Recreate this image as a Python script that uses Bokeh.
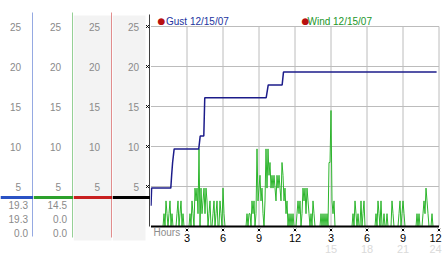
from bokeh.plotting import figure
from bokeh.layouts import row
from bokeh.models import Range1d, BoxAnnotation, Span
from bokeh.core.properties import value
from bokeh.embed import file_html
from bokeh.resources import INLINE

# ---------------- data ----------------
hour_ticks = [3, 6, 9, 12, 15, 18, 21, 24]
hour_labels = ["3", "6", "9", "12", "3", "6", "9", "12"]
day2_labels = ["", "", "", "", "15", "18", "21", "24"]
value_ticks = [5, 10, 15, 20, 25]
value_labels = ["5", "10", "15", "20", "25"]

gust_hours = [0.0, 0.05, 1.65, 1.72, 1.8, 1.93, 3.98, 4.1, 4.4, 4.48, 9.6, 9.77, 10.93, 11.04, 23.8]
gust_mph = [2.6, 4.8, 4.8, 6.4, 8.0, 9.7, 9.7, 11.3, 11.3, 16.1, 16.1, 17.7, 17.7, 19.3, 19.3]

# wind speed, one reading every 5 minutes (12 per hour)
wind_mph = [
    0, 0, 0, 0, 0, 0, 0, 0, 0, 0, 0, 0,
    0, 1.6, 0, 3.2, 1.6, 0, 1.6, 3.2, 0, 1.6, 0, 0,
    0, 0, 1.6, 3.2, 0, 1.6, 3.2, 0, 1.6, 0, 0, 0,
    0, 0, 0, 1.6, 0, 3.2, 1.6, 0, 4.8, 3.2, 4.8, 1.6,
    9.7, 0, 4.8, 1.6, 3.2, 4.8, 1.6, 4.8, 3.2, 0, 1.6, 3.2,
    0, 0, 1.6, 3.2, 0, 1.6, 3.2, 0, 0, 3.2, 1.6, 0,
    4.8, 1.6, 0, 0, 0, 0, 0, 0, 0, 0, 0, 0,
    0, 0, 0, 0, 0, 0, 0, 0, 0, 0, 0, 0,
    1.6, 0, 1.6, 1.6, 0, 3.2, 1.6, 3.2, 0, 1.6, 9.7, 3.2,
    4.8, 6.4, 3.2, 4.8, 1.6, 0, 3.2, 9.7, 4.8, 9.7, 6.4, 8.0,
    4.8, 6.4, 4.8, 6.4, 4.8, 3.2, 6.4, 4.8, 6.4, 4.8, 3.2, 8.0,
    6.4, 3.2, 4.8, 1.6, 3.2, 0, 1.6, 0, 1.6, 0, 1.6, 0,
    0, 0, 1.6, 3.2, 1.6, 3.2, 0, 1.6, 4.8, 3.2, 4.8, 1.6,
    4.8, 3.2, 1.6, 0, 1.6, 0, 3.2, 1.6, 0, 0, 0, 0,
    0, 0, 1.6, 0, 1.6, 0, 1.6, 0, 1.6, 0, 8.0, 8.0,
    14.5, 3.2, 1.6, 3.2, 0, 0, 0, 0, 0, 0, 0, 0,
    0, 0, 0, 0, 0, 0, 0, 0, 0, 0, 1.6, 0,
    3.2, 1.6, 0, 1.6, 0, 0, 3.2, 0, 1.6, 3.2, 0, 0,
    0, 0, 0, 0, 0, 0, 0, 0, 0, 1.6, 0, 3.2,
    1.6, 0, 3.2, 0, 0, 1.6, 0, 0, 1.6, 0, 0, 0,
    0, 3.2, 1.6, 0, 0, 0, 0, 0, 1.6, 3.2, 0, 1.6,
    3.2, 1.6, 0, 0, 0, 0, 0, 0, 0, 0, 0, 0,
    0, 0, 1.6, 0, 1.6, 0, 0, 0, 1.6, 3.2, 1.6, 4.8,
    3.2, 1.6, 0, 0, 0, 1.6, 0, 0, 0, 0, 0, 0,
]
wind_step_min = 5
wind_hours = [i * wind_step_min / 60 for i in range(len(wind_mph))]

gust_readout = ["19.3", "19.3", "0.0"]
wind_readout = ["14.5", "0.0", "0.0"]
gust_legend = "Gust 12/15/07"
wind_legend = "Wind 12/15/07"
x_title = "Hours"

# ---------------- geometry / style ----------------
W, H = 442, 253
PX0 = 226.0   # pixel row of value 0
PXU = 8.0     # pixels per value unit
Y_TOP = PX0 / PXU
Y_BOT = -(H - PX0) / PXU


def yv(py):
    return (PX0 - py) / PXU


FONT = value("Liberation Sans")
GRAY = "#8a8a8a"
BLUE = "#2a52c4"
GREEN = "#2ca02c"
RED = "#c82020"
SHADE = "#f3f3f3"
readout_rows = [yv(204), yv(218), yv(232)]
# keep the last bottom label inside the right edge
label_shift = [0, 0, 0, 0, 0, 0, 0, -3.5]


def base_fig(width, x_range):
    f = figure(width=width, height=H, x_range=x_range, y_range=Range1d(Y_BOT, Y_TOP),
               toolbar_location=None, output_backend="svg", title=None,
               x_axis_type=None, y_axis_type=None, min_border=0,
               min_border_left=0, min_border_right=0, min_border_top=0, min_border_bottom=0,
               outline_line_color=None, background_fill_color="white",
               border_fill_color="white")
    return f


def column(width, label_right, line_color, shade_right=None, readout=None, readout_right=None):
    f = base_fig(width, Range1d(0, width))
    if shade_right is not None:
        f.add_layout(BoxAnnotation(left=0, right=shade_right, bottom=yv(240), top=yv(15),
                                   fill_color=SHADE, fill_alpha=1, line_color=None, level="underlay"))
    f.text(x=[label_right] * len(value_ticks), y=value_ticks, text=value_labels,
           text_align="right", text_baseline="middle", text_color=GRAY,
           text_font=FONT, text_font_size=value("10px"))
    if readout is not None:
        f.text(x=[readout_right] * len(readout), y=readout_rows, text=readout,
               text_align="right", text_baseline="middle", text_color=GRAY,
               text_font=FONT, text_font_size=value("10px"))
    f.add_layout(Span(location=yv(197), dimension="width", line_color=line_color, line_width=3))
    return f


f1 = column(33, 20.5, BLUE, readout=gust_readout, readout_right=27.5)
f1.segment(x0=[32.5], y0=[yv(12)], x1=[32.5], y1=[yv(236)], line_color=BLUE, line_width=1)

f2 = column(40, 27.5, GREEN, readout=wind_readout, readout_right=33.5)
f2.segment(x0=[39.5], y0=[yv(12)], x1=[39.5], y1=[yv(237)], line_color=GREEN, line_width=1)

f3 = column(39, 26.5, RED, shade_right=38)
f3.segment(x0=[38.5], y0=[yv(12)], x1=[38.5], y1=[yv(237)], line_color=RED, line_width=1)

f4 = column(38, 26.5, "black", shade_right=33)
f4.scatter(x=[35] * len(value_ticks), y=value_ticks, marker="x", size=4, line_color="black", line_width=1)
f4.segment(x0=[37.5], y0=[yv(14)], x1=[37.5], y1=[0], line_color="black", line_width=1.5)

# ---------------- main plot ----------------
FM_W = 292
fm = base_fig(FM_W, Range1d(-0.5 / 12, (FM_W - 0.5) / 12))

fm.segment(x0=hour_ticks, y0=[0] * len(hour_ticks), x1=hour_ticks, y1=[value_ticks[-1]] * len(hour_ticks),
           line_color="#bcbcbc", line_width=1)
fm.segment(x0=[0] * len(value_ticks), y0=value_ticks, x1=[hour_ticks[-1]] * len(value_ticks), y1=value_ticks,
           line_color="#bcbcbc", line_width=1)

fm.line(wind_hours, wind_mph, line_color="#2db52d", line_width=1)
fm.line(gust_hours, gust_mph, line_color="#1c1c8a", line_width=1.5)

fm.segment(x0=[0], y0=[0], x1=[hour_ticks[-1]], y1=[0], line_color="black", line_width=2)

fm.scatter(x=hour_ticks, y=[yv(229.5)] * len(hour_ticks), marker="x", size=3.5,
           line_color="black", line_width=1)
fm.text(x=hour_ticks, y=[0] * len(hour_ticks), text=hour_labels, x_offset=label_shift, y_offset=11.5,
        text_align="center", text_baseline="middle", text_color="black",
        text_font=FONT, text_font_size=value("11px"))
fm.text(x=hour_ticks, y=[0] * len(hour_ticks), text=day2_labels, x_offset=label_shift, y_offset=22,
        text_align="center", text_baseline="middle", text_color="#dadada",
        text_font=FONT, text_font_size=value("11px"))
fm.text(x=[0], y=[0], text=[x_title], x_offset=2.5, y_offset=5.5,
        text_align="left", text_baseline="middle", text_color="#8c8c8c",
        text_font=FONT, text_font_size=value("10px"))

# legend
top = value_ticks[-1]
fm.text(x=[0, 12], y=[top, top], text=["●", "●"], x_offset=10.5, y_offset=-5.5,
        text_align="center", text_baseline="middle", text_color="#b81010",
        text_font=value("DejaVu Sans"), text_font_size=value("9px"))
fm.text(x=[0], y=[top], text=[gust_legend], x_offset=15, y_offset=-5.5,
        text_align="left", text_baseline="middle", text_color="#2233a0",
        text_font=FONT, text_font_size=value("10px"))
fm.text(x=[12], y=[top], text=[wind_legend], x_offset=12.5, y_offset=-5.5,
        text_align="left", text_baseline="middle", text_color="#22962a",
        text_font=FONT, text_font_size=value("10px"))

layout = row(f1, f2, f3, f4, fm, spacing=0)
open("out.html", "w").write(file_html(layout, INLINE))
